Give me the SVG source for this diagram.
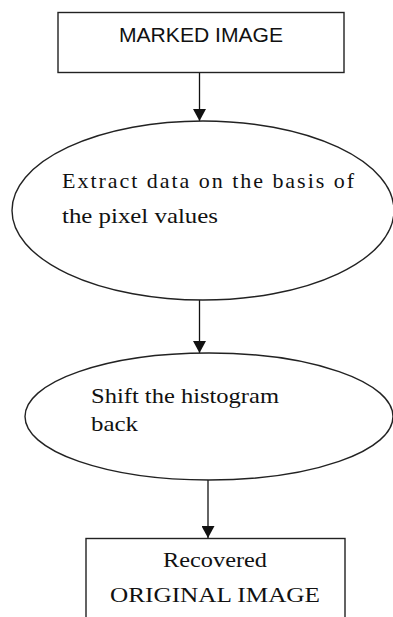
<svg xmlns="http://www.w3.org/2000/svg" width="393" height="617" viewBox="0 0 393 617">
  <style>
    .shape { fill: #ffffff; stroke: #222222; stroke-width: 1.4; }
    .link { fill: none; stroke: #111111; stroke-width: 1.3; }
    .sans { font-family: "Liberation Sans", Arial, sans-serif; font-size: 20px; fill: #111111; }
    .serif { font-family: "Liberation Serif", "Times New Roman", serif; font-size: 22px; fill: #111111; }
  </style>
  <defs>
    <marker id="arrow" viewBox="0 0 12 13" refX="12" refY="6.5" markerWidth="12" markerHeight="13" markerUnits="userSpaceOnUse" orient="auto">
      <path d="M0,0 L12,6.5 L0,13 Z" fill="#111111"/>
    </marker>
  </defs>
  <rect width="393" height="617" fill="#ffffff"/>

  <g id="connectors">
    <line class="link" x1="199.5" y1="72" x2="199.5" y2="121" marker-end="url(#arrow)"/>
    <line class="link" x1="199.5" y1="300" x2="199.5" y2="353" marker-end="url(#arrow)"/>
    <line class="link" x1="208" y1="480" x2="208" y2="538" marker-end="url(#arrow)"/>
  </g>

  <g id="marked-image">
    <rect class="shape" x="58" y="12.5" width="286" height="60"/>
    <text class="sans" x="119" y="42" textLength="164" lengthAdjust="spacingAndGlyphs">MARKED IMAGE</text>
  </g>

  <g id="extract-data">
    <ellipse class="shape" cx="203" cy="210.5" rx="191" ry="89.5"/>
    <text class="serif" x="62" y="188" textLength="292" lengthAdjust="spacing">Extract data on the basis of</text>
    <text class="serif" x="62" y="223" textLength="156" lengthAdjust="spacingAndGlyphs">the pixel values</text>
  </g>

  <g id="shift-histogram">
    <ellipse class="shape" cx="209" cy="416.5" rx="184" ry="63.5"/>
    <text class="serif" x="91" y="403" textLength="188" lengthAdjust="spacingAndGlyphs">Shift the histogram</text>
    <text class="serif" x="91" y="431" textLength="47" lengthAdjust="spacingAndGlyphs">back</text>
  </g>

  <g id="recovered-image">
    <rect class="shape" x="86" y="538.5" width="259" height="100"/>
    <text class="serif" x="163" y="567" textLength="104" lengthAdjust="spacingAndGlyphs">Recovered</text>
    <text class="serif" x="110" y="602" textLength="210" lengthAdjust="spacingAndGlyphs">ORIGINAL IMAGE</text>
  </g>
</svg>
